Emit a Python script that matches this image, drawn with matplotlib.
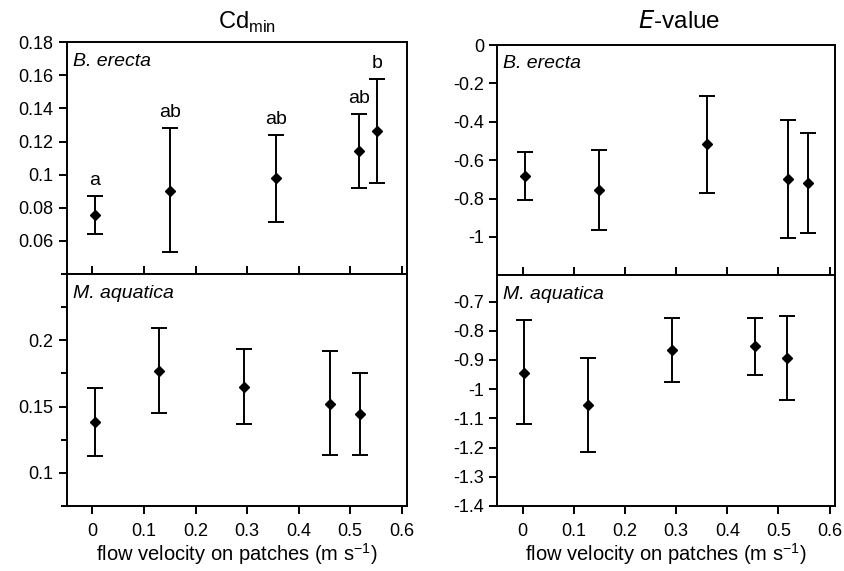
import matplotlib.pyplot as plt
from matplotlib.ticker import FuncFormatter, MultipleLocator

plt.rcParams['font.family'] = ['Liberation Sans', 'DejaVu Sans']
plt.rcParams['axes.unicode_minus'] = False

# Cd_min, B. erecta
cd_be_x = [0.005, 0.15, 0.357, 0.517, 0.553]
cd_be_y = [0.0757, 0.0904, 0.0979, 0.1142, 0.1267]
cd_be_hi = [0.0874, 0.1283, 0.1240, 0.1368, 0.1577]
cd_be_lo = [0.0641, 0.0532, 0.0714, 0.0921, 0.0953]
cd_be_letters = ["a", "ab", "ab", "ab", "b"]

# Cd_min, M. aquatica
cd_ma_x = [0.004, 0.129, 0.294, 0.461, 0.520]
cd_ma_y = [0.1387, 0.1771, 0.1649, 0.1523, 0.1445]
cd_ma_hi = [0.1641, 0.2094, 0.1937, 0.1922, 0.1751]
cd_ma_lo = [0.1125, 0.1453, 0.1370, 0.1136, 0.1136]

# E-value, B. erecta
e_be_x = [0.004, 0.149, 0.360, 0.518, 0.558]
e_be_y = [-0.684, -0.758, -0.516, -0.700, -0.720]
e_be_hi = [-0.559, -0.547, -0.267, -0.393, -0.459]
e_be_lo = [-0.810, -0.965, -0.771, -1.006, -0.980]

# E-value, M. aquatica
e_ma_x = [0.003, 0.127, 0.291, 0.455, 0.517]
e_ma_y = [-0.945, -1.056, -0.865, -0.852, -0.893]
e_ma_hi = [-0.765, -0.893, -0.756, -0.756, -0.750]
e_ma_lo = [-1.121, -1.215, -0.975, -0.953, -1.037]

x_ticks = [0, 0.1, 0.2, 0.3, 0.4, 0.5, 0.6]
fmt = FuncFormatter(lambda v, p: f"{v:g}")
xlab = "flow velocity on patches (m s$^{\\mathregular{-1}}$)"


def draw(ax, x, y, hi, lo, species):
    err = [[m - l for m, l in zip(y, lo)], [h - m for m, h in zip(y, hi)]]
    ax.errorbar(x, y, yerr=err, fmt='D', color='black', markersize=5.5,
                ecolor='black', elinewidth=1.4, capsize=5.5, capthick=1.4)
    ax.set_xlim(-0.05, 0.61)
    ax.set_xticks(x_ticks)
    ax.yaxis.set_major_formatter(fmt)
    ax.xaxis.set_major_formatter(fmt)
    for s in ax.spines.values():
        s.set_linewidth(1.4)
    ax.tick_params(labelsize=13, width=1.4, length=6)
    ax.tick_params(axis='x', pad=6)
    ax.text(0.018, 0.955, species, transform=ax.transAxes, style='italic',
            fontsize=14, va='top')


fig = plt.figure(figsize=(8.44, 5.71), dpi=100)
ax1 = fig.add_axes([0.079, 0.520, 0.403, 0.406])
ax2 = fig.add_axes([0.079, 0.114, 0.403, 0.406])
ax3 = fig.add_axes([0.589, 0.518, 0.400, 0.403])
ax4 = fig.add_axes([0.589, 0.114, 0.400, 0.404])

# top left
draw(ax1, cd_be_x, cd_be_y, cd_be_hi, cd_be_lo, "B. erecta")
ax1.set_ylim(0.04, 0.18)
ax1.set_yticks([0.06, 0.08, 0.1, 0.12, 0.14, 0.16, 0.18])
ax1.tick_params(axis='x', direction='in', labelbottom=False)
for xi, top, lab in zip(cd_be_x, cd_be_hi, cd_be_letters):
    ax1.annotate(lab, (xi, top), xytext=(0, 5), textcoords='offset points',
                 ha='center', va='bottom', fontsize=14)
ax1.set_title("Cd$_{\\mathregular{min}}$", fontsize=17, pad=10, x=0.53)

# bottom left
draw(ax2, cd_ma_x, cd_ma_y, cd_ma_hi, cd_ma_lo, "M. aquatica")
ax2.set_ylim(0.075, 0.25)
ax2.set_yticks([0.1, 0.15, 0.2])
ax2.yaxis.set_minor_locator(MultipleLocator(0.025))
ax2.tick_params(axis='y', which='minor', length=4, width=1.4)
ax2.set_xlabel(xlab, fontsize=14.5, labelpad=1)

# top right
draw(ax3, e_be_x, e_be_y, e_be_hi, e_be_lo, "B. erecta")
ax3.set_ylim(-1.2, 0)
ax3.set_yticks([-1, -0.8, -0.6, -0.4, -0.2, 0])
ax3.tick_params(axis='x', direction='in', labelbottom=False)
ax3.set_title("$\\mathit{E}$-value", fontsize=17.5, pad=12, x=0.54)

# bottom right
draw(ax4, e_ma_x, e_ma_y, e_ma_hi, e_ma_lo, "M. aquatica")
ax4.set_ylim(-1.4, -0.61)
ax4.set_yticks([-1.4, -1.3, -1.2, -1.1, -1, -0.9, -0.8, -0.7])
ax4.set_xlabel(xlab, fontsize=14.5, labelpad=1)

fig.savefig("out.png", dpi=100)
